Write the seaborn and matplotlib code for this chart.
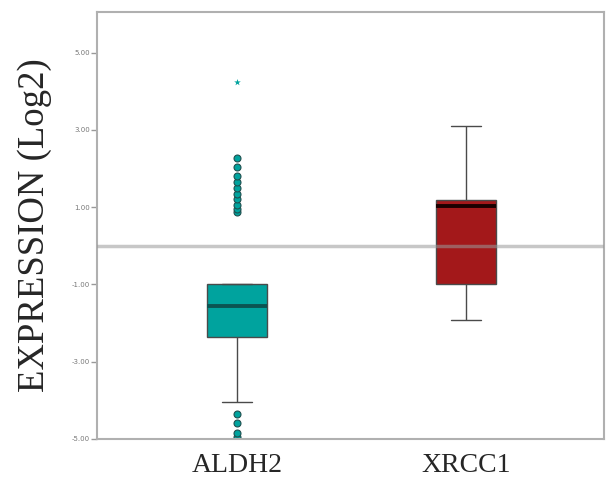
import matplotlib
matplotlib.use("Agg")
import matplotlib.pyplot as plt
import seaborn as sns
import pandas as pd

## values (log2 expression)
genes = ["ALDH2", "XRCC1"]
aldh2 = [-5.0, -4.95, -4.85, -4.6, -4.36,
         -4.05, -3.5, -3.0, -2.7, -2.5,
         -2.37, -2.3, -2.2, -2.1, -2.0, -1.9, -1.8, -1.7, -1.62, -1.58,
         -1.55, -1.5, -1.45, -1.4, -1.3, -1.25, -1.2, -1.1, -1.05, -1.02,
         -1.0,
         0.88, 0.95, 1.05, 1.2, 1.35, 1.5, 1.65, 1.8, 2.05, 2.27]
aldh2_extreme = [4.23]
xrcc1 = [-1.93, -1.3, -0.98, 0.2, 1.03, 1.1, 1.19, 2.2, 3.09]
colors = {"ALDH2": "#00a39e", "XRCC1": "#a3181a"}
median_colors = {"ALDH2": "#0b5452", "XRCC1": "#1a0000"}
yticks = [-5, -3, -1, 1, 3, 5]

df = pd.DataFrame({"gene": ["ALDH2"] * len(aldh2) + ["XRCC1"] * len(xrcc1),
                   "value": aldh2 + xrcc1})

sns.set_style("white")
fig = plt.figure(figsize=(6.06, 4.86), dpi=100)
ax = fig.add_axes([0.160, 0.097, 0.836, 0.878])

## one call per gene so the median colour can differ
for g in genes:
    sns.boxplot(data=df[df.gene == g], x="gene", y="value", order=genes,
                color=colors[g], saturation=1, width=0.26, whis=1.3,
                linecolor="#4a4a4a", linewidth=1.0,
                medianprops=dict(color=median_colors[g], linewidth=2.8),
                flierprops=dict(marker="o", markerfacecolor=colors["ALDH2"],
                                markeredgecolor="#1f4f4e", markersize=5,
                                markeredgewidth=0.8),
                ax=ax)

## extreme outlier drawn as a small star
ext = pd.DataFrame({"gene": ["ALDH2"] * len(aldh2_extreme), "value": aldh2_extreme})
sns.stripplot(data=ext, x="gene", y="value", order=genes, jitter=False,
              marker="*", color=colors["ALDH2"], size=5, ax=ax)

ax.axhline(0, color="#9a9a9a", alpha=0.55, linewidth=2.5, zorder=5)

ax.set_xlim(-0.61, 1.60)
ax.set_ylim(-5.0, 6.05)
ax.set_yticks(yticks)
ax.set_yticklabels([f"{v:.2f}" for v in yticks], fontsize=5, color="#777777")
ax.tick_params(axis="y", length=4, width=1, color="#999999", left=True, pad=1)
ax.tick_params(axis="x", length=0, pad=10)
for lab in ax.get_xticklabels():
    lab.set_fontfamily("Liberation Serif")
    lab.set_fontsize(20)
for s in ax.spines.values():
    s.set_color("#b0b0b0")
    s.set_linewidth(1.5)

ax.set_xlabel("")
ax.set_ylabel("EXPRESSION (Log2)", fontfamily="Liberation Serif", fontsize=26.5,
              labelpad=14)

fig.savefig("out.png", dpi=100)
